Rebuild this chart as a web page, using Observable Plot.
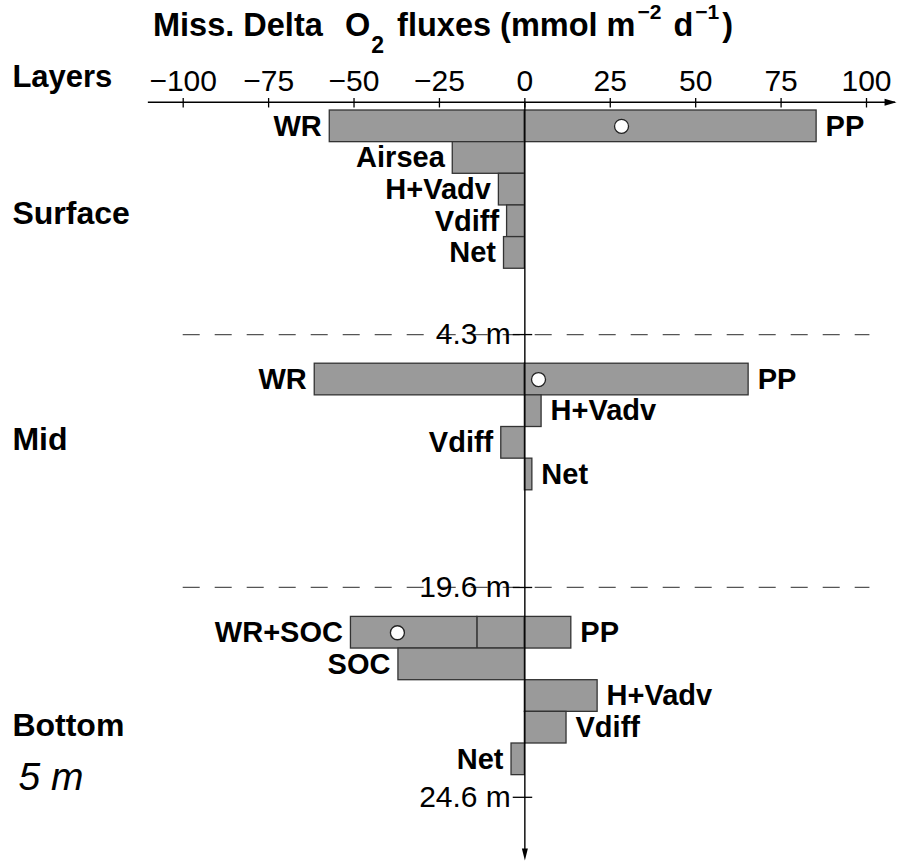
<!DOCTYPE html>
<html>
<head>
<meta charset="utf-8">
<script src="https://cdn.jsdelivr.net/npm/d3@7"></script>
<script src="https://cdn.jsdelivr.net/npm/@observablehq/plot@0.6"></script>
<style>
  body { margin: 0; background: #fff; }
  #chart { position: relative; width: 898px; height: 865px; font-family: "Liberation Sans", Arial, Helvetica, sans-serif; }
  .title { position: absolute; top: 9px; font-weight: bold; font-size: 32.5px; line-height: 32px; white-space: nowrap; color: #000; }
  .title sub { font-size: 23px; vertical-align: baseline; position: relative; top: 17px; margin-left: 1px; margin-right: 4px; }
  .title sup { font-size: 21px; vertical-align: baseline; position: relative; top: -17px; margin-left: 2px; margin-right: 3px; }
</style>
</head>
<body>
<div id="chart">
  <div class="title" style="left:153px">Miss. Delta</div>
  <div class="title" style="left:345px">O<sub>2</sub> fluxes (mmol m<sup>−2</sup> d<sup>−1</sup>)</div>
</div>
<script>
// O2 flux budget terms per layer (mmol m-2 d-1)
const layers = ["Surface", "Mid", "Bottom"];
const boundaryLabels = ["4.3 m", "19.6 m", "24.6 m"];
const xTicks = [-100, -75, -50, -25, 0, 25, 50, 75, 100];

const surfaceTerms  = ["WR", "PP", "Airsea", "H+Vadv", "Vdiff", "Net"];
const surfaceFluxes = [-57.1, 85.4, -21.1, -7.6, -5.2, -6.1];

const midTerms  = ["WR", "PP", "H+Vadv", "Vdiff", "Net"];
const midFluxes = [-61.5, 65.5, 4.9, -6.9, 2.2];

const bottomTerms  = ["WR", "SOC", "PP", "H+Vadv", "Vdiff", "Net"];
const bottomFluxes = [-13.9, -37.0, 13.6, 21.3, 12.2, -3.9];

// Schematic vertical layout, in row units
const layerStart = [0, 8, 16];
const layerLabelRow = [3.25, 10.4, 19.45];
const boundaryRow = [7.08, 15.07, 21.7];
const axisRow = -0.26;
const labelX = -150;

const budgets = [
  [surfaceTerms, surfaceFluxes],
  [midTerms, midFluxes],
  [bottomTerms, bottomFluxes]
];

const bars = [];
const labels = [];
const sums = [];

budgets.forEach(([terms, fluxes], li) => {
  const v = Object.fromEntries(terms.map((t, i) => [t, fluxes[i]]));
  const r0 = layerStart[li];
  // first row: respiration (with sediment uptake stacked on it) against production
  const hasSOC = "SOC" in v;
  bars.push({x1: 0, x2: v.WR, y1: r0, y2: r0 + 1});
  let left = v.WR;
  if (hasSOC) {
    bars.push({x1: v.WR, x2: v.WR + v.SOC, y1: r0, y2: r0 + 1});
    left = v.WR + v.SOC;
  }
  labels.push({x: left, y: r0 + 0.5, text: hasSOC ? "WR+SOC" : "WR"});
  bars.push({x1: 0, x2: v.PP, y1: r0, y2: r0 + 1});
  labels.push({x: v.PP, y: r0 + 0.5, text: "PP"});
  sums.push({x: left + v.PP, y: r0 + 0.5});
  // remaining terms, one row each
  let row = r0 + 1;
  terms.filter(t => t !== "WR" && t !== "PP").forEach(t => {
    bars.push({x1: 0, x2: v[t], y1: row, y2: row + 1});
    labels.push({x: v[t], y: row + 0.5, text: t});
    row++;
  });
});

const arrowRight = {draw(ctx) { ctx.moveTo(0, 0); ctx.lineTo(-12, -3.5); ctx.lineTo(-12, 3.5); ctx.closePath(); }};
const arrowDown  = {draw(ctx) { ctx.moveTo(0, 0); ctx.lineTo(-3, -12); ctx.lineTo(3, -12); ctx.closePath(); }};

const fmt = d => d < 0 ? "−" + Math.abs(d) : String(d);
const font = "'Liberation Sans', Arial, Helvetica, sans-serif";
const labelStyle = {x: "x", y: "y", text: "text", fontSize: 29, fontWeight: "bold", fill: "black", lineAnchor: "middle"};

const chart = Plot.plot({
  width: 898,
  height: 865,
  margin: 0,
  style: {background: "white", fontFamily: font, overflow: "visible"},
  x: {domain: [-100, 100], range: [182.7, 866], axis: null},
  y: {domain: [0, 21], range: [110, 774.65], axis: null},
  marks: [
    // layer boundaries
    Plot.ruleY(boundaryRow.slice(0, 2), {y: d => d, x1: -100, x2: 101, stroke: "#555", strokeWidth: 1.3, strokeDasharray: "17,15"}),
    // flux bars
    Plot.rect(bars, {x1: "x1", x2: "x2", y1: "y1", y2: "y2", fill: "#9a9a9a", stroke: "#333", strokeWidth: 1.3}),
    Plot.dot(sums, {x: "x", y: "y", r: 7, fill: "white", stroke: "#222", strokeWidth: 1.3}),
    // term names at the bar ends
    Plot.text(labels.filter(d => d.x < 0), {...labelStyle, textAnchor: "end", dx: -8}),
    Plot.text(labels.filter(d => d.x >= 0), {...labelStyle, textAnchor: "start", dx: 9}),
    // top flux axis
    Plot.ruleY([axisRow], {y: d => d, x1: -110.2, x2: 108.5, stroke: "black", strokeWidth: 1.4}),
    Plot.dot([axisRow], {x: 108.8, y: d => d, symbol: arrowRight, fill: "black", stroke: null}),
    Plot.ruleX(xTicks, {x: d => d, y1: -0.38, y2: -0.08, stroke: "black", strokeWidth: 1.3}),
    Plot.text(xTicks, {x: d => d, y: -0.92, text: fmt, fontSize: 30, lineAnchor: "middle", fill: "black"}),
    // zero line / depth axis
    Plot.ruleX([0], {y1: axisRow, y2: 23.5, stroke: "black", strokeWidth: 1.4}),
    Plot.dot([0], {x: d => d, y: 23.7, symbol: arrowDown, fill: "black", stroke: null}),
    Plot.ruleY(boundaryRow, {y: d => d, x1: -3.4, x2: 2.3, stroke: "black", strokeWidth: 1.3}),
    Plot.text(boundaryLabels, {x: 0, y: (d, i) => boundaryRow[i], text: d => d, textAnchor: "end", dx: -14, fontSize: 30, lineAnchor: "middle", fill: "black"}),
    // layer names
    Plot.text(["Layers"], {x: labelX, y: -1.07, text: d => d, textAnchor: "start", fontSize: 31, fontWeight: "bold", lineAnchor: "middle", fill: "black"}),
    Plot.text(layers, {x: labelX, y: (d, i) => layerLabelRow[i], text: d => d, textAnchor: "start", fontSize: 32, fontWeight: "bold", lineAnchor: "middle", fill: "black"}),
    Plot.text(["5 m"], {x: labelX + 1.8, y: 21.07, text: d => d, textAnchor: "start", fontSize: 39, fontStyle: "italic", lineAnchor: "middle", fill: "black"})
  ]
});

document.getElementById("chart").prepend(chart);
</script>
</body>
</html>
